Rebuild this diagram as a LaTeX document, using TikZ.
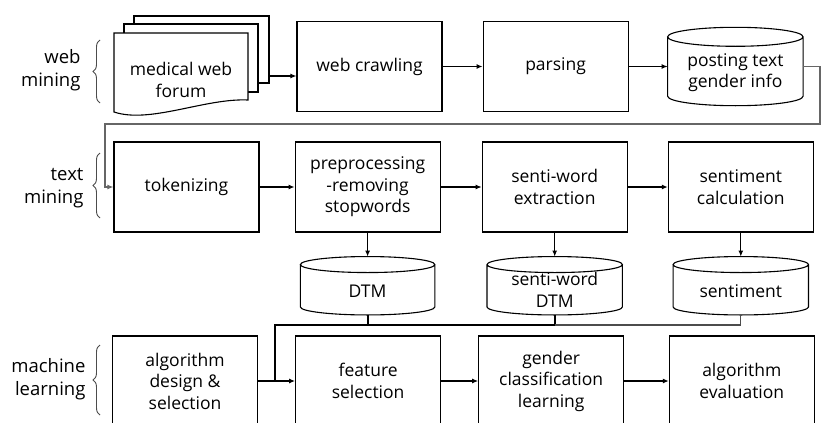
\documentclass[tikz,border=0pt]{standalone}
\usepackage{fontspec}
\setmainfont{Open Sans}
\usetikzlibrary{arrows.meta, positioning, calc, decorations.pathreplacing}

\begin{document}
\begin{tikzpicture}[
  x=1pt,y=1pt,
  stepbox/.style={
    rectangle, draw, line width=1.1pt,
    minimum width=145pt, minimum height=90pt,
    align=center, font=\fontsize{17.5}{21.5}\selectfont
  },
  database/.style={
    rectangle, inner sep=0pt,
    minimum width=134pt, minimum height=58pt
  },
  dbtext/.style={align=center, font=\fontsize{17.5}{21.5}\selectfont},
  dbline/.style={draw, line width=1.1pt},
  page/.style={draw, line width=1.1pt, fill=white},
  arrow/.style={-{Latex[length=6pt,width=5pt]}, line width=1.1pt},
  link/.style={line width=1.1pt},
  feedback/.style={-{Latex[length=6pt,width=5pt]}, line width=1.4pt, draw=black!60},
  stage/.style={align=right, anchor=east, font=\fontsize{18.5}{23}\selectfont},
  bracket/.style={decorate, decoration={brace, amplitude=7pt}, line width=0.9pt, draw=black!70}
]
\path[clip, use as bounding box] (0,0) rectangle (822,-423);

% ---- Web mining row ----
% stacked pages of the forum
\draw[page] (134,-24) -- (134,-16) -- (269,-16) -- (269,-83) -- (258,-83);
\draw[page] (124,-33) -- (124,-24) -- (258,-24) -- (258,-92) -- (248,-92);
\draw[page] (114,-33) -- (248,-33) -- (248,-100)
  .. controls (205,-98) and (150,-124) .. (114,-112) -- cycle;
\node[dbtext] (forum) at (181,-80) {medical web\\forum};
\coordinate (stackout) at (269,-76);

\node[stepbox] (crawl) at (369.5,-66.5) {web crawling};
\node[stepbox, right=40pt of crawl] (parse) {parsing};
\node[database, minimum width=135pt, minimum height=78pt, right=39pt of parse] (postdb) {};
\node[dbtext] (postdbtext) at ($(postdb)+(0,-6)$) {posting text\\gender info};

% ---- Text mining row ----
\node[stepbox] (token) at (186.5,-187) {tokenizing};
\node[stepbox, right=35pt of token] (prep) {preprocessing\\-removing\\stopwords};
\node[stepbox, right=41pt of prep] (swext) {senti-word\\extraction};
\node[stepbox, right=40pt of swext] (calc) {sentiment\\calculation};

\node[database, below=24pt of prep] (dtm) {};
\node[database, minimum width=135pt, below=24pt of swext] (swdtm) {};
\node[database, minimum width=135pt, below=24pt of calc] (sent) {};
\node[dbtext] (dtmtext) at ($(dtm)+(0,-5)$) {DTM};
\node[dbtext] (swdtmtext) at ($(swdtm)+(0,-4)$) {senti-word\\DTM};
\node[dbtext] (senttext) at ($(sent)+(0,-5)$) {sentiment};

% cylinder outlines round the database nodes
\foreach \db/\ry in {postdb/9.5, dtm/8, swdtm/8, sent/8} {
  \draw[dbline] let \p1=(\db.north west), \p2=(\db.south east) in
    (\x1,\y1-\ry pt) -- (\x1,\y2+\ry pt)
    arc[start angle=180, end angle=360, x radius={(\x2-\x1)/2}, y radius=\ry pt]
    -- (\x2,\y1-\ry pt)
    ({(\x1+\x2)/2},\y1-\ry pt) ellipse[x radius={(\x2-\x1)/2}, y radius=\ry pt];
}

% ---- Machine learning row ----
\node[stepbox] (algo) at (185,-381) {algorithm\\design \&\\selection};
\node[stepbox, right=37pt of algo] (feat) {feature\\selection};
\node[stepbox, right=37pt of feat] (gender) {gender\\classification\\learning};
\node[stepbox, right=44.5pt of gender] (evalu) {algorithm\\evaluation};

% ---- Stage labels with braces ----
\draw[bracket] (100,-103) -- (100,-40);
\node[stage] (lweb) at (84,-70) {web\\mining};
\draw[bracket] (100,-218) -- (100,-153);
\node[stage] (ltext) at (87,-188) {text\\mining};
\draw[bracket] (100,-415) -- (100,-345);
\node[stage] (lml) at (89,-379) {machine\\learning};

% ---- Flow arrows ----
\draw[arrow] (stackout) -- (stackout -| crawl.west);
\draw[arrow] (crawl) -- (parse);
\draw[arrow] (parse) -- (postdb);

% back to the start of the text mining row
\coordinate (loopR) at (820,-124);
\coordinate (loopL) at (105,-124);
\draw[feedback] (postdb.east) -| (loopR) -- (loopL) |- (token.west);

\foreach \a/\b in {token/prep, prep/swext, swext/calc, algo/feat, feat/gender, gender/evalu} {
  \draw[arrow] (\a) -- (\b);
}
\foreach \a/\b in {prep/dtm, swext/swdtm, calc/sent} {
  \draw[arrow] (\a.south) -- (\b.north);
}

% ---- Data matrices into feature selection ----
\coordinate (bus) at (0,-325);
\coordinate (join) at ($(algo.east)!0.46!(feat.west)$);
\draw[link, line width=1.8pt] (dtm.south) |- (join |- bus) -- (join);
\draw[link, line width=1.6pt] (swdtm.south) |- (dtm.south |- bus);
\draw[link, draw=black!70] (sent.south) |- (swdtm.south |- bus);

\end{tikzpicture}
\end{document}
